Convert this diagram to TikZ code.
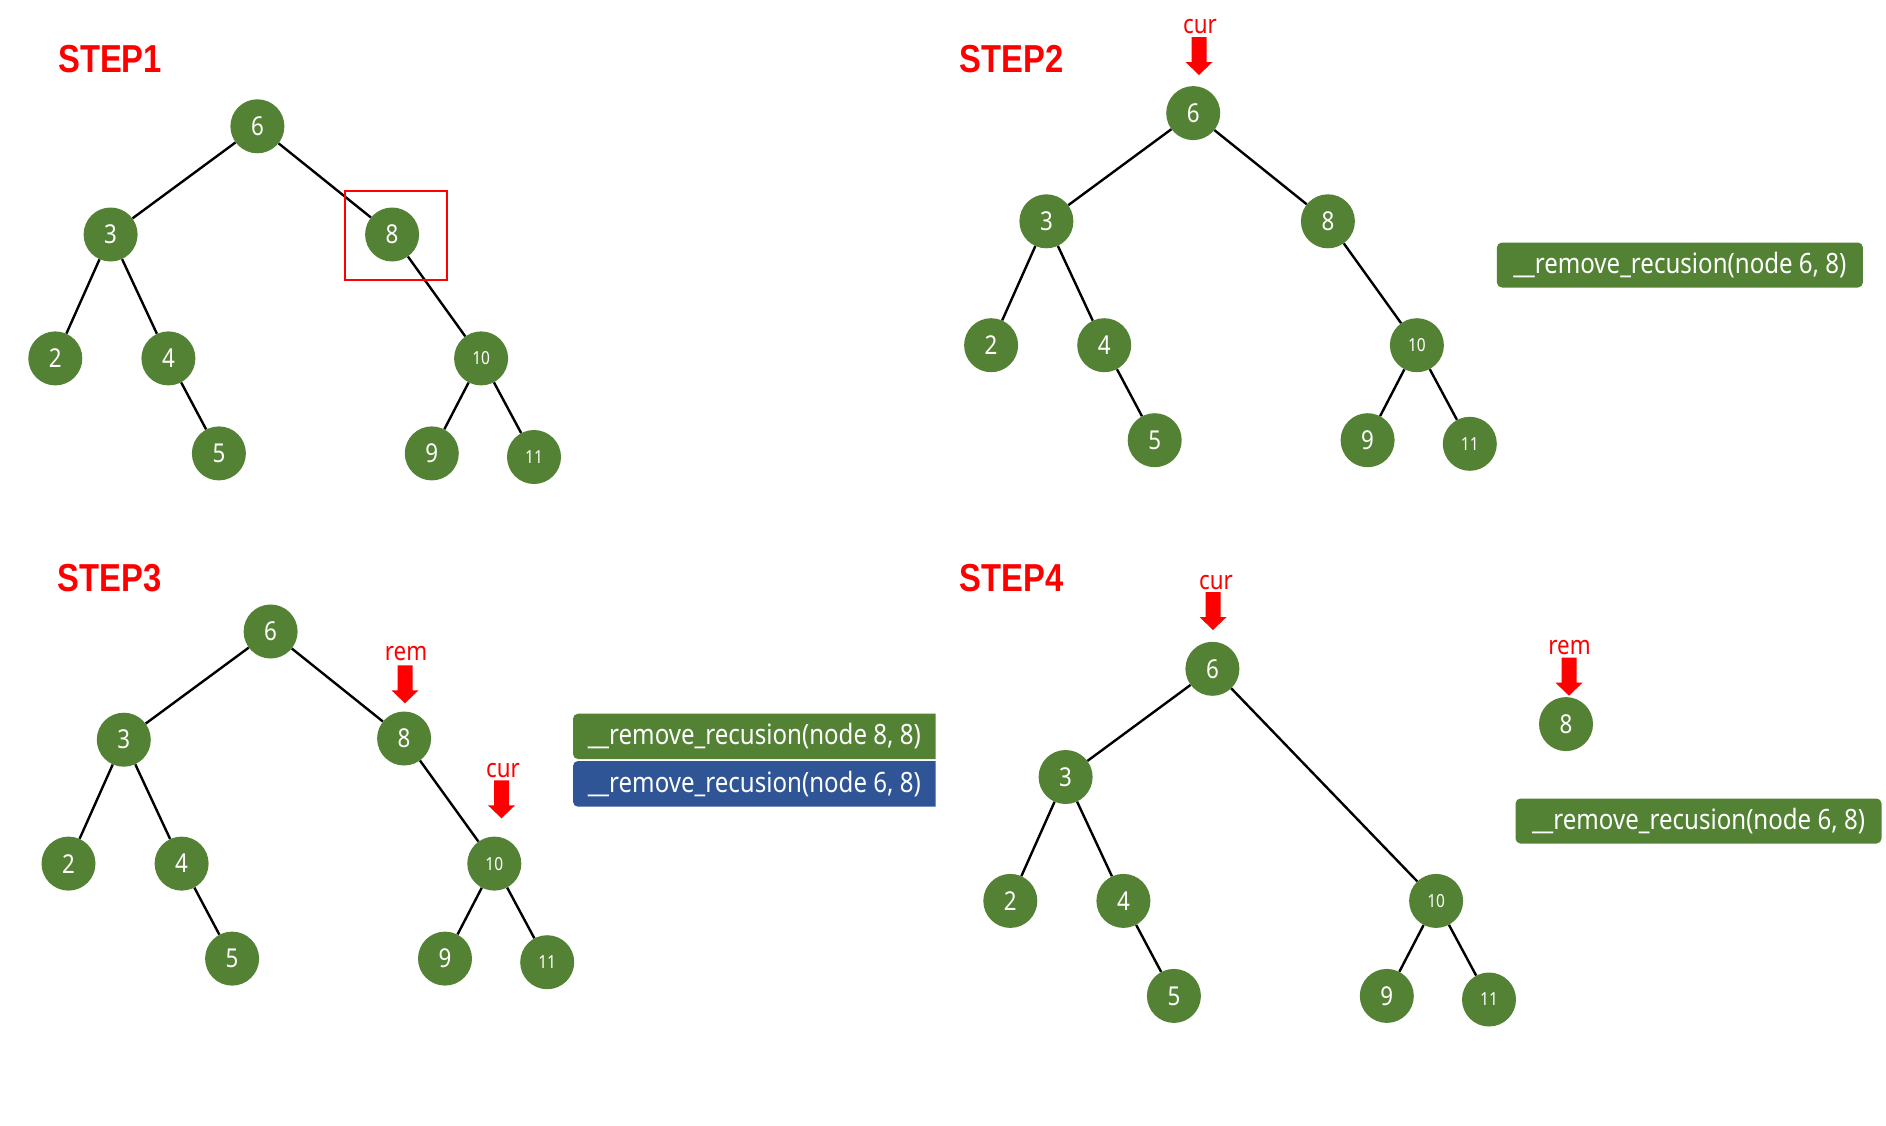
\documentclass[tikz,border=0pt]{standalone}
\usepackage{fontspec}
\setmainfont{Noto Sans}
\newfontfamily\nf{Noto Sans}[FakeStretch=0.86]
\newfontfamily\nfb{Liberation Sans}[FakeStretch=0.84]
\definecolor{tgreen}{HTML}{548235}
\definecolor{tblue}{HTML}{2F5597}
\definecolor{tred}{HTML}{FF0000}
\tikzset{
  tn/.style={circle, fill=tgreen, text=white, minimum size=54pt, inner sep=0pt, font=\nf\fontsize{26}{26}\selectfont},
  tns/.style={tn, font=\nf\fontsize{18}{18}\selectfont},
  edge/.style={line width=2.4pt, black},
  steplabel/.style={anchor=base west, text=tred, inner sep=0pt, font=\nfb\bfseries\fontsize{39}{39}\selectfont},
  ptrlabel/.style={anchor=base, text=tred, inner sep=0pt, font=\nf\fontsize{26}{26}\selectfont},
  callbox/.style={fill=tgreen, text=white, rounded corners=5pt, minimum width=366pt, minimum height=45pt, inner sep=0pt, font=\nf\fontsize{28}{28}\selectfont},
  calltext/.style={text=white, inner sep=0pt, font=\nf\fontsize{28}{28}\selectfont},
  downarrow/.pic={\fill[tred] (0,0) -- (-13.5,-13) -- (-7.5,-13) -- (-7.5,-38) -- (7.5,-38) -- (7.5,-13) -- (13.5,-13) -- cycle;}
}
\newcommand\treenodes[1]{%
  \node[tn]  (#1-6)  at (0,0) {6};
  \node[tn]  (#1-3)  at (-146.8,108.2) {3};
  \node[tn]  (#1-2)  at (-202.1,232.1) {2};
  \node[tn]  (#1-4)  at (-89,232.1) {4};
  \node[tn]  (#1-5)  at (-38.5,327.1) {5};
  \node[tns] (#1-10) at (223.7,232.1) {10};
  \node[tn]  (#1-9)  at (174.4,327.1) {9};
  \node[tns] (#1-11) at (276.6,330.7) {11};
}
\newcommand\treeedges[1]{%
  \draw[edge] (#1-6) -- (#1-3);
  \draw[edge] (#1-3) -- (#1-2);
  \draw[edge] (#1-3) -- (#1-4);
  \draw[edge] (#1-4) -- (#1-5);
  \draw[edge] (#1-10) -- (#1-9);
  \draw[edge] (#1-10) -- (#1-11);
}
\begin{document}
\begin{tikzpicture}[x=1pt, y=-1pt]
\useasboundingbox (0,0) rectangle (1886,1125);
\fill[white] (0,0) rectangle (1886,1125);

% ---------- STEP1 ----------
\node[steplabel] (l1) at (58,72) {STEP1};
\begin{scope}[shift={(257.4,126.3)}]
  \treenodes{a}
  \node[tn] (a-8) at (134.7,108.2) {8};
\end{scope}
\treeedges{a}
\draw[edge] (a-6) -- (a-8);
\draw[edge] (a-8) -- (a-10);
\node[draw=tred, line width=1.6pt, minimum width=102pt, minimum height=89pt, inner sep=0pt] (sel) at (396,235.5) {};

% ---------- STEP2 ----------
\node[steplabel] (l2) at (959.4,72) {STEP2};
\begin{scope}[shift={(1193.2,113.1)}]
  \treenodes{b}
  \node[tn] (b-8) at (134.7,108.2) {8};
\end{scope}
\treeedges{b}
\draw[edge] (b-6) -- (b-8);
\draw[edge] (b-8) -- (b-10);
\node[ptrlabel] (bcur) at (1200,33) {cur};
\pic at (1199,75) {downarrow};
\node[callbox] (bbox) at (1679.9,265) {\_\_remove\_recusion(node 6, 8)};

% ---------- STEP3 ----------
\node[steplabel] (l3) at (57.6,591.7) {STEP3};
\begin{scope}[shift={(270.6,631.5)}]
  \treenodes{c}
  \node[tn] (c-8) at (133.5,107) {8};
\end{scope}
\treeedges{c}
\draw[edge] (c-6) -- (c-8);
\draw[edge] (c-8) -- (c-10);
\node[ptrlabel] (crem) at (406,660.5) {rem};
\pic at (405,703.3) {downarrow};
\node[ptrlabel] (ccur) at (503,777.3) {cur};
\pic at (501.5,818.3) {downarrow};
\fill[tgreen, rounded corners=5pt] (935.7,713.7) [sharp corners] -- (935.7,759) [rounded corners=5pt] -- (573,759) -- (573,713.7) [sharp corners] -- cycle;
\node[calltext] (cbox1) at (754.3,736.4) {\_\_remove\_recusion(node 8, 8)};
\fill[tblue, rounded corners=5pt] (935.7,761) [sharp corners] -- (935.7,806.7) [rounded corners=5pt] -- (573,806.7) -- (573,761) [sharp corners] -- cycle;
\node[calltext] (cbox2) at (754.3,783.8) {\_\_remove\_recusion(node 6, 8)};

% ---------- STEP4 ----------
\node[steplabel] (l4) at (959.4,591.7) {STEP4};
\begin{scope}[shift={(1212.4,668.8)}]
  \treenodes{d}
\end{scope}
\treeedges{d}
\draw[edge] (d-6) -- (d-10);
\node[tn] (d-8) at (1566,724.1) {8};
\node[ptrlabel] (dcur) at (1216,589.3) {cur};
\pic at (1213,630) {downarrow};
\node[ptrlabel] (drem) at (1569.5,654) {rem};
\pic at (1569,695.7) {downarrow};
\node[callbox] (dbox) at (1698.5,821) {\_\_remove\_recusion(node 6, 8)};
\end{tikzpicture}
\end{document}
